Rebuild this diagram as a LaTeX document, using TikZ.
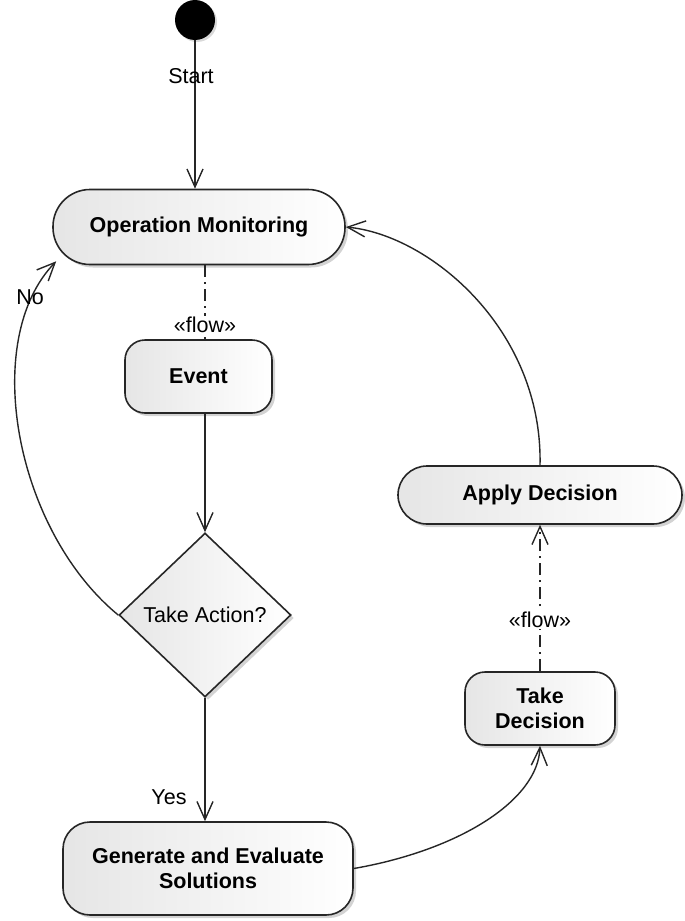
\documentclass[tikz,border=0pt]{standalone}
\usepackage{fontspec}
\setmainfont{Liberation Sans}
\usetikzlibrary{arrows.meta,shapes.geometric,shadows,calc}
\begin{document}
\begin{tikzpicture}[x=1pt,y=-1pt,
  every node/.style={font=\fontsize{21.5}{25}\selectfont},
  act/.style={draw=black!85, line width=1.6pt, left color=black!10, right color=white,
    drop shadow={shadow xshift=3pt, shadow yshift=-3pt, opacity=0.35},
    inner sep=0pt, align=center, font=\fontsize{21.5}{25}\selectfont\bfseries},
  arr/.style={draw=black!85, line width=1.4pt, -{Straight Barb[length=18pt,width=16pt,line width=1.4pt]}},
  flowline/.style={draw=black!85, line width=1.4pt, dash pattern=on 12pt off 5pt on 2pt off 5pt},
  lbl/.style={inner sep=1pt, font=\fontsize{21.5}{25}\selectfont}
]
\useasboundingbox (0,0) rectangle (685,921);

% start
\node[circle, fill=black, minimum size=40pt, inner sep=0pt,
  drop shadow={shadow xshift=2pt, shadow yshift=-2pt, opacity=0.3}] (start) at (195,20) {};

% activities
\node[act, minimum width=292pt, minimum height=75pt, rounded corners=37pt] (om) at (199,227) {Operation Monitoring};
\node[act, minimum width=147pt, minimum height=73pt, rounded corners=20pt] (event) at (198.5,376.5) {Event};
\node[act, diamond, aspect=1.05, minimum width=172pt, minimum height=164pt, font=\fontsize{21.5}{25}\selectfont] (dec) at (205,615) {Take Action?};
\node[act, minimum width=290pt, minimum height=93pt, rounded corners=27pt] (gen) at (208,868.5) {Generate and Evaluate\\Solutions};
\node[act, minimum width=150pt, minimum height=73pt, rounded corners=20pt] (td) at (540,708.5) {Take\\Decision};
\node[act, minimum width=284pt, minimum height=58pt, rounded corners=29pt] (ad) at (540,495) {Apply Decision};

% connectors
\draw[arr] (start) -- (start |- om.north);
\node[lbl] (startlbl) at (191,76) {Start};

\draw[flowline] (om.south -| 205,0) -- (event.north -| 205,0);
\node[lbl, fill=white] (flow1) at (205,325) {«flow»};

\draw[arr] (event.south -| dec.north) -- (dec.north);

\coordinate (noend) at ([shift={(4pt,4pt)}]om.south west);
\draw[arr] (dec.west) .. controls (15,530) and (-20,340) .. (noend);
\node[lbl] (nolbl) at (30,297) {No};

\draw[arr] (dec.south) -- (dec.south |- gen.north);
\node[lbl] (yeslbl) at (169,797) {Yes};

\draw[arr] (gen.east) .. controls (460,850) and (538,800) .. (td.south);

\draw[flowline, -{Straight Barb[length=18pt,width=16pt,line width=1.4pt]}] (td.north) -- (ad.south);
\node[lbl, fill=white] (flow2) at (540,620) {«flow»};

\draw[arr] (ad.north) .. controls (543,330) and (430,235) .. (om.east);
\end{tikzpicture}
\end{document}
